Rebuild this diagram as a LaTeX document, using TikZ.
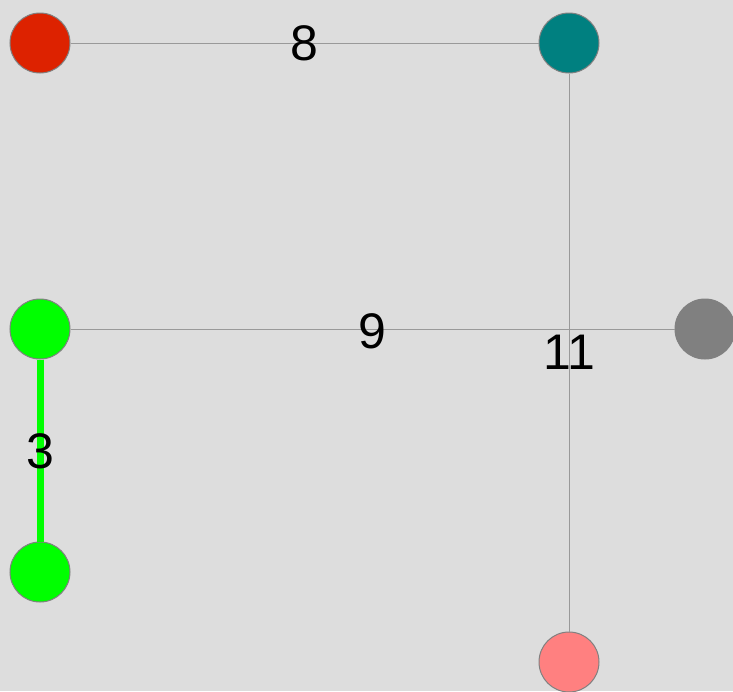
\documentclass[tikz,border=0pt]{standalone}
\usepackage{fontspec}
\setmainfont{Liberation Sans}
\usepackage{tikz}
\usetikzlibrary{positioning,calc}

\definecolor{bgcol}{HTML}{DDDDDD}
\definecolor{edgecol}{HTML}{999999}
\definecolor{rimcol}{HTML}{808080}
\definecolor{redv}{HTML}{DD2200}
\definecolor{tealv}{HTML}{008080}
\definecolor{greenv}{HTML}{00FF00}
\definecolor{grayv}{HTML}{808080}
\definecolor{pinkv}{HTML}{FF8080}

\begin{document}
\begin{tikzpicture}[
			x=1pt, y=-1pt,
			vert/.style={circle, draw=rimcol, line width=1pt, minimum size=60pt, inner sep=0pt},
			link/.style={draw=edgecol, line width=1pt},
			heavy/.style={draw=greenv, line width=7pt},
			wt/.style={font=\fontsize{50}{50}\selectfont, inner sep=0pt}
			]
			\fill[bgcol] (0,0) rectangle (733,691);
			\useasboundingbox (0,0) rectangle (733,691);
			
			\node[vert, fill=redv] (r) at (40,43) {};
			\node[vert, fill=tealv] (t) at (569,43) {};
			\node[vert, fill=greenv] (g1) at (40,329) {};
			\node[vert, fill=grayv, draw=grayv] (gr) at (705,329) {};
			\node[vert, fill=greenv] (g2) at (40,572) {};
			\node[vert, fill=pinkv] (p) at (569,662) {};
			
			\path[link] (r) -- (t);
			\path[link] (g1) -- (gr);
			\path[link] (t) -- (p);
			\path[heavy] (g1) -- (g2);
			
			% weights sit on the edge midpoints
			\node[wt] (w8) at ($(r)!0.5!(t)$) {8};
			\node[wt] (w9) at ($(g1)!0.5!(gr)+(0,2)$) {9};
			\node[wt] (w11) at ($(t)!0.5!(p)$) {11};
			\node[wt] (w3) at ($(g1)!0.5!(g2)+(0,1)$) {3};
		\end{tikzpicture}
\end{document}
